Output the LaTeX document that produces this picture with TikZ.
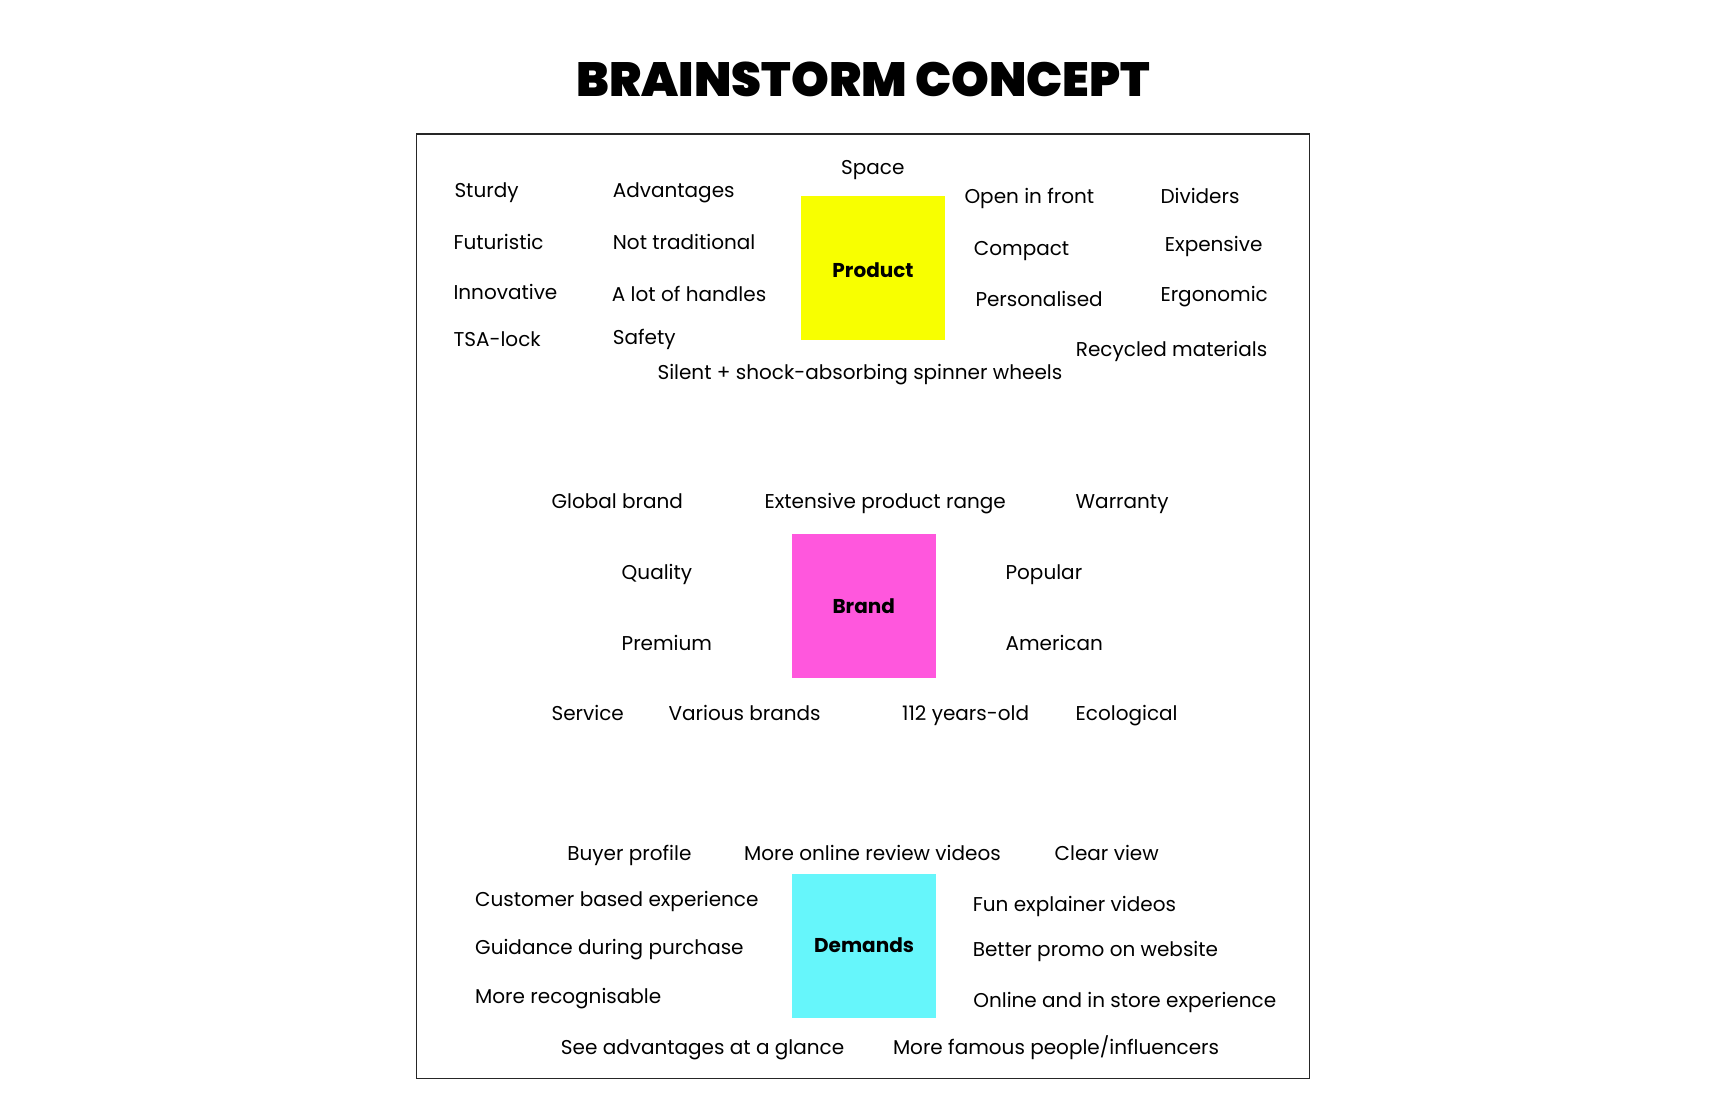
\documentclass[tikz,border=0pt]{standalone}
\usepackage{fontspec}
\setmainfont{Poppins}
\IfFontExistsTF{Poppins Black}{\newfontfamily\ttlfont{Poppins Black}}{\newcommand\ttlfont{\bfseries}}
\definecolor{prodyellow}{HTML}{F8FF00}
\definecolor{brandpink}{HTML}{FF57DD}
\definecolor{demcyan}{HTML}{66F6FB}
\newcommand\sqtext[2]{\raisebox{-#1pt}[0pt][0pt]{#2}}
\begin{document}
\begin{tikzpicture}[x=1pt,y=-1pt,
  lbl/.style={anchor=base west, inner sep=0pt, yshift=-2pt, font=\fontsize{20}{24}\selectfont},
  lbltop/.style={anchor=base west, inner sep=0pt, yshift=-1pt, font=\fontsize{20}{24}\selectfont},
  sq/.style={inner sep=0pt, minimum width=144, minimum height=143.6, font=\fontsize{20}{24}\selectfont\bfseries},
  frame/.style={draw=black!85, line width=1.1pt}]
\useasboundingbox (0,0) rectangle (1728,1117);
\fill[white] (0,0) rectangle (1728,1117);
\node[anchor=base, inner sep=0pt, font=\fontsize{48}{56}\selectfont\ttlfont] (title) at (863.5,96) {BRAINSTORM CONCEPT};
\node[frame, minimum width=892.6, minimum height=944.4, inner sep=0pt] (board) at (863,606.2) {};
% Product
\node[sq, fill=prodyellow] (product) at (873,267.7) {\sqtext{9.5}{Product}};
\node[lbltop] (p1) at (454.3,196.7) {Sturdy};
\node[lbltop] (p2) at (612.7,196.7) {Advantages};
\node[lbltop] (p3) at (453.3,248.3) {Futuristic};
\node[lbltop] (p4) at (612.7,248.3) {Not traditional};
\node[lbltop] (p5) at (453.3,298.3) {Innovative};
\node[lbltop] (p6) at (611.7,300) {A lot of handles};
\node[lbltop] (p7) at (453.3,345.7) {TSA-lock};
\node[lbltop] (p8) at (612.7,343.3) {Safety};
\node[lbltop] (p9) at (657.3,378.3) {Silent + shock-absorbing spinner wheels};
\node[lbltop] (p10) at (841,173.3) {Space};
\node[lbltop] (p11) at (964.3,202.7) {Open in front};
\node[lbltop] (p12) at (1160.3,202.7) {Dividers};
\node[lbltop] (p13) at (973.7,254) {Compact};
\node[lbltop] (p14) at (1164.7,250) {Expensive};
\node[lbltop] (p15) at (975.3,305) {Personalised};
\node[lbltop] (p16) at (1160.3,300) {Ergonomic};
\node[lbltop] (p17) at (1075.7,355.7) {Recycled materials};
% Brand
\node[sq, fill=brandpink] (brand) at (863.7,605.9) {\sqtext{7.2}{Brand}};
\node[lbl] (b1) at (551.4,506) {Global brand};
\node[lbl] (b2) at (764.4,506) {Extensive product range};
\node[lbl] (b3) at (1075.5,506) {Warranty};
\node[lbl] (b4) at (621.5,577.3) {Quality};
\node[lbl] (b5) at (1005.4,577.3) {Popular};
\node[lbl] (b6) at (621.5,648.3) {Premium};
\node[lbl] (b7) at (1005.4,648.3) {American};
\node[lbl] (b8) at (551.4,718.3) {Service};
\node[lbl] (b9) at (668.4,718.3) {Various brands};
\node[lbl] (b10) at (901.9,718.3) {112 years-old};
\node[lbl] (b11) at (1075.5,718.3) {Ecological};
% Demands
\node[sq, fill=demcyan] (demands) at (864.1,945.9) {\sqtext{6.8}{Demands}};
\node[lbl] (d1) at (567.1,858.3) {Buyer profile};
\node[lbl] (d2) at (743.9,858.3) {More online review videos};
\node[lbl] (d3) at (1054.5,858.3) {Clear view};
\node[lbl] (d4) at (475,904.3) {Customer based experience};
\node[lbl] (d5) at (475,952.3) {Guidance during purchase};
\node[lbl] (d6) at (475,1001) {More recognisable};
\node[lbl] (d7) at (972.6,909.3) {Fun explainer videos};
\node[lbl] (d8) at (972.6,954) {Better promo on website};
\node[lbl] (d9) at (973.1,1005.7) {Online and in store experience};
\node[lbl] (d10) at (560.7,1052.3) {See advantages at a glance};
\node[lbl] (d11) at (892.8,1052.3) {More famous people/influencers};
\end{tikzpicture}
\end{document}
